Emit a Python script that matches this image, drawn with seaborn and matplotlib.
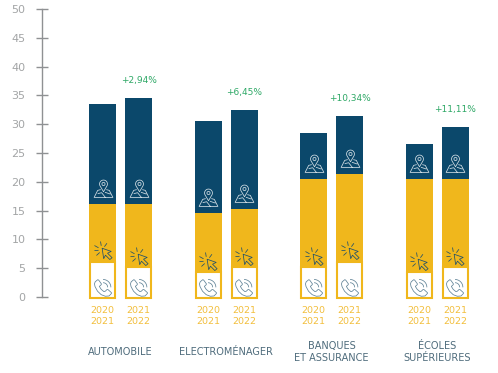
import numpy as np
import pandas as pd
import matplotlib
matplotlib.use("Agg")
import matplotlib.pyplot as plt
from matplotlib.path import Path
import seaborn as sns

categories = ["AUTOMOBILE", "ELECTROMÉNAGER", "BANQUES\nET ASSURANCE", "ÉCOLES\nSUPÉRIEURES"]
periods = ["2020\n2021", "2021\n2022"]
phone = [[6.3, 5.3], [4.5, 5.3], [5.4, 6.3], [4.5, 5.4]]
digital = [[9.9, 10.9], [10.0, 10.0], [15.0, 15.1], [16.0, 15.0]]
store = [[17.3, 18.3], [16.0, 17.2], [8.1, 10.1], [6.0, 9.1]]
growth = ["+2,94%", "+6,45%", "+10,34%", "+11,11%"]
y_ticks = [0, 5, 10, 15, 20, 25, 30, 35, 40, 45, 50]

DARK, YELLOW = "#0B486B", "#F0B71C"
GREEN, YEAR, CAT, TICK, AXIS = "#2EA866", "#F2BE3C", "#4F6C7C", "#A3A5A6", "#8F9193"

rows = []
for c, ph, di, st in zip(categories, phone, digital, store):
    for p, a, b, s in zip(periods, ph, di, st):
        rows.append(dict(category=c, period=p, phone=a, digital=a + b, total=a + b + s))
df = pd.DataFrame(rows)


def poly(pts, closed=False):
    v = list(pts)
    codes = [Path.MOVETO] + [Path.LINETO] * (len(v) - 1)
    if closed:
        v.append(v[0])
        codes.append(Path.CLOSEPOLY)
    return v, codes


def join(*parts):
    v, c = [], []
    for a, b in parts:
        v += list(a)
        c += list(b)
    return Path(np.array(v, float), c)


def arc(cx, cy, r, t0, t1, n=16, sy=1.0):
    t = np.radians(np.linspace(t0, t1, n))
    return list(zip(cx + r * np.cos(t), cy + sy * r * np.sin(t)))


PHONE = join(
    poly([(-.9, .62), (-.62, .85), (-.52, .8), (-.22, .38), (-.27, .28), (-.45, .12), (-.25, -.2),
          (.05, -.45), (.2, -.4), (.38, -.22), (.48, -.22), (.86, -.56), (.86, -.65), (.6, -.92),
          (.2, -.95), (-.25, -.78), (-.65, -.4), (-.92, .1), (-.98, .4)], True),
    poly(arc(-.05, .02, .5, 0, 90)),
    poly(arc(-.05, .02, .85, 0, 90)),
)
CURSOR = join(
    poly([(-.15, .25), (.85, -.1), (.45, -.3), (.95, -.8), (.7, -1.0), (.22, -.52), (.02, -.9)], True),
    poly([(-.25, .52), (-.33, 1.0)]), poly([(.1, .42), (.38, .8)]),
    poly([(-.55, .3), (-1.0, .55)]), poly([(-.55, .02), (-1.0, .0)]), poly([(-.42, -.22), (-.78, -.55)]),
)
PIN = join(
    poly(arc(0, .48, .42, -35, 215, 24) + [(0, -.35)], True),
    poly(arc(0, .48, .17, 0, 360, 14)),
    poly([(-.3, -.12), (-.62, -.2), (-1.0, -.95), (1.0, -.95), (.62, -.2), (.3, -.12)]),
    poly([(-.62, -.55), (-.2, -.45), (.2, -.95)]),
    poly([(.15, -.4), (.75, -.6)]),
)

sns.set_theme(style="white")
plt.rcParams["font.family"] = ["DejaVu Sans"]
W, H = 498, 373
fig = plt.figure(figsize=(W / 100, H / 100), dpi=100, facecolor="white")
ax = fig.add_axes([41.5 / W, 1 - 297 / H, (W - 41.5) / W, (297 - 9) / H])

kw = dict(data=df, x="category", hue="period", dodge=True, width=0.6825, gap=0.25,
          legend=False, ax=ax, saturation=1, order=categories, hue_order=periods, err_kws={"linewidth": 0})
sns.barplot(y="total", palette=[DARK, DARK], linewidth=0, **kw)
sns.barplot(y="digital", palette=[YELLOW, YELLOW], linewidth=0, **kw)
sns.barplot(y="phone", palette=["white", "white"], edgecolor=YELLOW, linewidth=1.5, **kw)

ax.set_xlim(-0.749, 3.578)
ax.set_ylim(0, 50)
ax.set_xlabel("")
ax.set_ylabel("")
ax.set_yticks(y_ticks)
ax.tick_params(axis="y", direction="inout", length=8, width=1, color=AXIS,
               labelcolor=TICK, labelsize=8, pad=7.5, left=True)
ax.set_xticks([])
for s in ["top", "right", "bottom"]:
    ax.spines[s].set_visible(False)
ax.spines["left"].set_color(AXIS)
ax.spines["left"].set_linewidth(1)
ax.patch.set_alpha(0)

for cont in ax.containers:
    for bar in cont:
        bar.set_clip_on(False)

# The white boxes keep their border inside the bar footprint.
inset_x = 1 / 105.5
inset_y = 1 / 5.76
for bar in [b for c in ax.containers[-2:] for b in c]:
    bar.set_x(bar.get_x() + inset_x)
    bar.set_width(bar.get_width() - 2 * inset_x)
    bar.set_y(-0.2)
    bar.set_height(bar.get_height() + 0.2 - inset_y)

xs = []
for per_i in range(2):
    xs.append([b.get_x() + b.get_width() / 2 for b in ax.containers[per_i]])
xs = np.array(xs).T

for i, c in enumerate(categories):
    for j, p in enumerate(periods):
        x = xs[i, j]
        ax.annotate(p, (x, 0), xytext=(0, -19), textcoords="offset pixels", ha="center", va="center",
                    color=YEAR, fontsize=6.8, linespacing=1.25, annotation_clip=False)
        a, b, s = phone[i][j], digital[i][j], store[i][j]
        ax.plot([x], [1.7], marker=PHONE, ms=13, mfc="none", mec="#5F8296", mew=0.55, ls="none", clip_on=False)
        ax.plot([x], [a + 1.8], marker=CURSOR, ms=13, mfc="none", mec="#1F4F6B", mew=0.55, ls="none")
        ax.plot([x], [a + b + 2.8], marker=PIN, ms=13.5, mfc="none", mec="#D5E0E6", mew=0.55, ls="none")
    ax.annotate(c, (xs[i].mean(), 0), xytext=(0, -55), textcoords="offset pixels", ha="center", va="center",
                color=CAT, fontsize=7, linespacing=1.3, annotation_clip=False)
    top = phone[i][1] + digital[i][1] + store[i][1]
    ax.annotate(growth[i], (xs[i, 1], top), xytext=(0, 17.5), textcoords="offset pixels", ha="center",
                va="center", color=GREEN, fontsize=6.5, annotation_clip=False)

fig.savefig("out.png", dpi=100, facecolor="white")
